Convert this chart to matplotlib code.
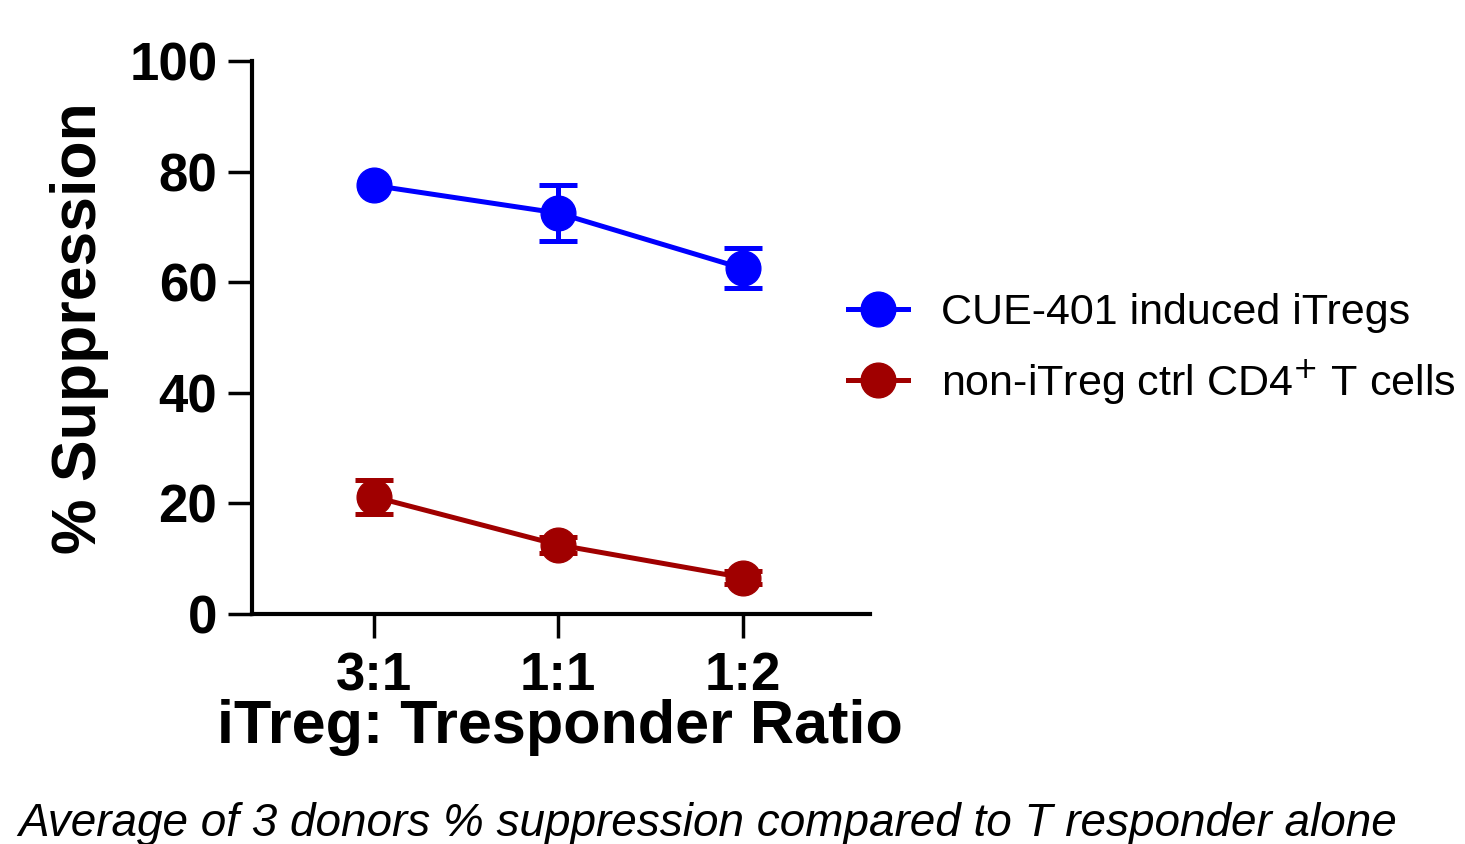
import matplotlib.pyplot as plt

ratios = ['3:1', '1:1', '1:2']
itreg_mean = [77.5, 72.5, 62.5]
itreg_err = [0.0, 5.0, 3.6]
ctrl_mean = [21.2, 12.5, 6.6]
ctrl_err = [3.1, 1.4, 1.2]
yticks = [0, 20, 40, 60, 80, 100]
labels = ['CUE-401 induced iTregs', 'non-iTreg ctrl CD4$^{+}$ T cells']

font = 'Liberation Sans'
blue = '#0000FF'
red = '#A00000'

fig = plt.figure(figsize=(14.65, 8.44), dpi=100)
ax = fig.add_axes([252/1465, 1 - 614/844, (870-252)/1465, (614-61)/844])

x = list(range(len(ratios)))
handles = []
for mean, err, col in [(itreg_mean, itreg_err, blue), (ctrl_mean, ctrl_err, red)]:
    # error bars only where there is a spread
    ex = [xi for xi, e in zip(x, err) if e > 0]
    ey = [m for m, e in zip(mean, err) if e > 0]
    ee = [e for e in err if e > 0]
    ax.errorbar(ex, ey, yerr=ee, fmt='none', ecolor=col, elinewidth=3.6,
                capsize=13.5, capthick=3.6, clip_on=False)
    h, = ax.plot(x, mean, color=col, marker='o', markersize=25, lw=3.6, clip_on=False)
    handles.append(h)

ax.set_xlim(-0.66, 2.69)
ax.set_ylim(0, 100)
ax.set_yticks(yticks)
ax.set_xticks(x)
ax.set_xticklabels(ratios)
for s in ['top', 'right']:
    ax.spines[s].set_visible(False)
for s in ['left', 'bottom']:
    ax.spines[s].set_linewidth(3)
ax.tick_params(axis='both', length=17, width=2.5, labelsize=38, pad=8)
ax.tick_params(axis='x', pad=10)
for lab in ax.get_xticklabels() + ax.get_yticklabels():
    lab.set_fontfamily(font)
    lab.set_fontweight('bold')

fig.text(80/1465, 1 - 328/844, '% Suppression', rotation=90, ha='center', va='center',
         fontsize=45, fontweight='bold', family=font)
fig.text(560/1465, 1 - 743/844, 'iTreg: Tresponder Ratio', ha='center', va='baseline',
         fontsize=44, fontweight='bold', family=font)
fig.text(1397/1465, 1 - 836/844,
         'Average of 3 donors % suppression compared to T responder alone',
         ha='right', va='baseline', fontsize=33, style='italic', family=font)

ax.legend(handles, labels, loc='center left', bbox_to_anchor=(848/1465, 1 - 350/844),
          bbox_transform=fig.transFigure, frameon=False,
          prop={'family': font, 'size': 31}, handlelength=1.4,
          handletextpad=0.75, labelspacing=0.58, borderpad=0, borderaxespad=0)

fig.savefig('out.png', dpi=100)
